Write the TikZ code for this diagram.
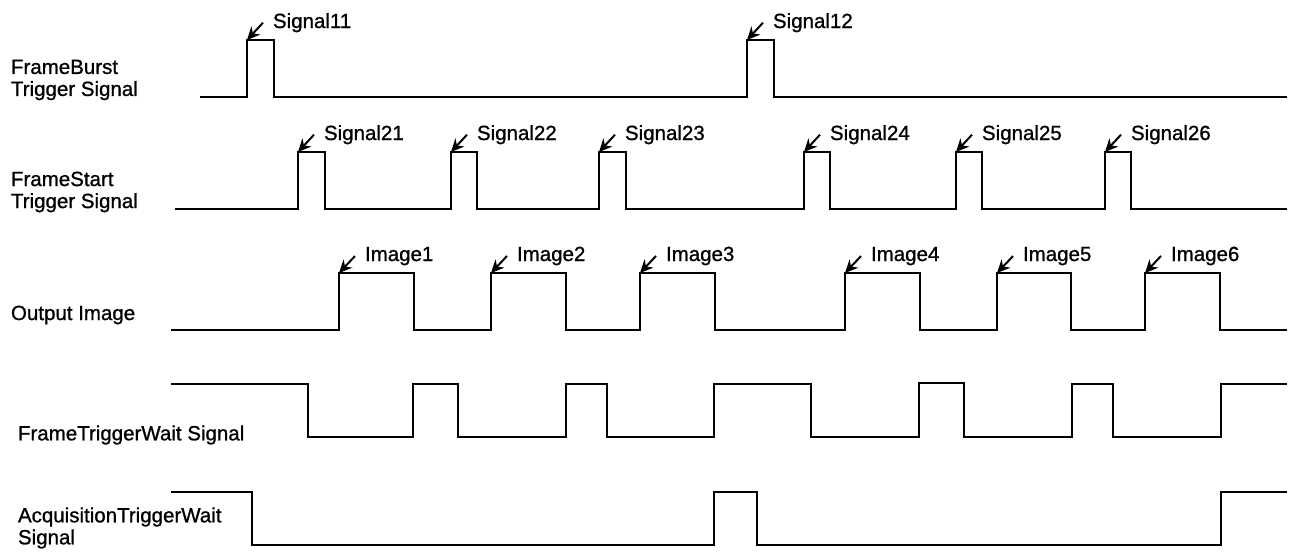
\documentclass[tikz,border=0pt]{standalone}
\usepackage{fontspec}
\setmainfont{Liberation Sans}[FakeBold=1]
\usetikzlibrary{arrows.meta}

\begin{document}
\begin{tikzpicture}[x=1pt,y=-1pt,line width=2pt,line join=miter,
  every node/.style={font=\fontsize{20.5}{22}\selectfont},
  rowname/.style={anchor=west,align=left,inner sep=0pt},
  sigtag/.style={anchor=base west,inner xsep=9pt,inner ysep=0pt},
  tagarrow/.style={-{Stealth[length=13pt,width=12pt]},line width=2pt}]
\useasboundingbox (0,0) rectangle (1289,552);
% FrameBurst trigger
\node[rowname] (fb) at (10,80) {FrameBurst\\Trigger Signal};
\draw (200,97) -- (247,97) -- (247,40) -- (274,40) -- (274,97) -- (747,97) -- (747,40) -- (774,40) -- (774,97) -- (1287,97);
\coordinate (p11) at (247,40);
\coordinate (p12) at (747,40);
\node[sigtag] (s11) at (263,28) {Signal11};
\node[sigtag] (s12) at (763,28) {Signal12};
\draw[tagarrow] (s11.west) -- (p11);
\draw[tagarrow] (s12.west) -- (p12);
% FrameStart trigger
\node[rowname] (fs) at (10,192) {FrameStart\\Trigger Signal};
\draw (175,209) -- (298,209) -- (298,152) -- (325,152) -- (325,209) -- (451,209) -- (451,152) -- (477,152) -- (477,209) -- (599,209) -- (599,152) -- (626,152) -- (626,209) -- (804,209) -- (804,152) -- (830,152) -- (830,209) -- (956,209) -- (956,152) -- (982,152) -- (982,209) -- (1105,209) -- (1105,152) -- (1131,152) -- (1131,209) -- (1287,209);
\coordinate (p21) at (298,152);
\coordinate (p22) at (451,152);
\coordinate (p23) at (599,152);
\coordinate (p24) at (804,152);
\coordinate (p25) at (956,152);
\coordinate (p26) at (1105,152);
\node[sigtag] (s21) at (314,140) {Signal21};
\node[sigtag] (s22) at (467,140) {Signal22};
\node[sigtag] (s23) at (615,140) {Signal23};
\node[sigtag] (s24) at (820,140) {Signal24};
\node[sigtag] (s25) at (972,140) {Signal25};
\node[sigtag] (s26) at (1121,140) {Signal26};
\draw[tagarrow] (s21.west) -- (p21);
\draw[tagarrow] (s22.west) -- (p22);
\draw[tagarrow] (s23.west) -- (p23);
\draw[tagarrow] (s24.west) -- (p24);
\draw[tagarrow] (s25.west) -- (p25);
\draw[tagarrow] (s26.west) -- (p26);
% output image
\node[rowname] (oi) at (10,315) {Output Image};
\draw (171,330) -- (339,330) -- (339,273) -- (414,273) -- (414,330) -- (491,330) -- (491,273) -- (566,273) -- (566,330) -- (640,330) -- (640,273) -- (715,273) -- (715,330) -- (845,330) -- (845,273) -- (920,273) -- (920,330) -- (997,330) -- (997,273) -- (1071,273) -- (1071,330) -- (1145,330) -- (1145,273) -- (1220,273) -- (1220,330) -- (1287,330);
\coordinate (p31) at (339,273);
\coordinate (p32) at (491,273);
\coordinate (p33) at (640,273);
\coordinate (p34) at (845,273);
\coordinate (p35) at (997,273);
\coordinate (p36) at (1145,273);
\node[sigtag] (i1) at (355,261) {Image1};
\node[sigtag] (i2) at (507,261) {Image2};
\node[sigtag] (i3) at (656,261) {Image3};
\node[sigtag] (i4) at (861,261) {Image4};
\node[sigtag] (i5) at (1013,261) {Image5};
\node[sigtag] (i6) at (1161,261) {Image6};
\draw[tagarrow] (i1.west) -- (p31);
\draw[tagarrow] (i2.west) -- (p32);
\draw[tagarrow] (i3.west) -- (p33);
\draw[tagarrow] (i4.west) -- (p34);
\draw[tagarrow] (i5.west) -- (p35);
\draw[tagarrow] (i6.west) -- (p36);
% frame trigger wait
\node[rowname] (ftw) at (17,435) {FrameTriggerWait Signal};
\draw (171,384) -- (308,384) -- (308,437) -- (413,437) -- (413,384) -- (458,384) -- (458,437) -- (566,437) -- (566,384) -- (607,384) -- (607,437) -- (714,437) -- (714,384) -- (811,384) -- (811,437) -- (919,437) -- (919,383) -- (964,383) -- (964,437) -- (1072,437) -- (1072,384) -- (1113,384) -- (1113,437) -- (1221,437) -- (1221,384) -- (1287,384);
% acquisition trigger wait
\node[rowname] (atw) at (17,528) {AcquisitionTriggerWait\\Signal};
\draw (171,492) -- (252,492) -- (252,545) -- (714,545) -- (714,492) -- (757,492) -- (757,545) -- (1221,545) -- (1221,492) -- (1287,492);
\end{tikzpicture}
\end{document}
